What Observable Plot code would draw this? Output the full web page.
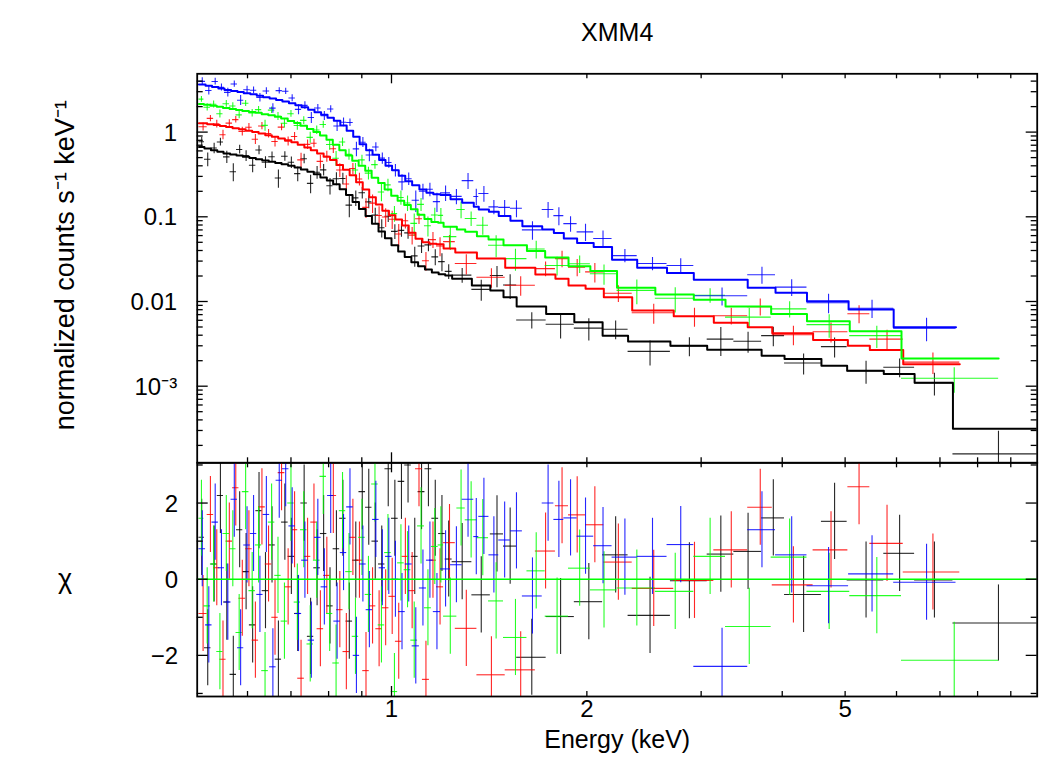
<!DOCTYPE html>
<html><head><meta charset="utf-8">
<script src="https://cdn.jsdelivr.net/npm/d3@7"></script>
<script src="https://cdn.jsdelivr.net/npm/@observablehq/plot@0.6"></script>
<style>
body{margin:0;background:#fff;}
#wrap{position:relative;width:1039px;height:761px;background:#fff;}
#wrap svg{position:absolute;left:0;top:0;}
</style></head><body><div id="wrap"></div>
<script>
// ---------- data (bin edges in keV, model in counts/s/keV, chi, relative error) ----------
const blackEdges = [0.505,0.515,0.527,0.539,0.551,0.564,0.577,0.590,0.604,0.618,0.632,0.647,0.662,0.677,0.693,0.709,0.725,0.742,0.759,0.777,0.795,0.813,0.832,0.851,0.871,0.891,0.912,0.933,0.955,0.977,1.000,1.024,1.048,1.073,1.099,1.126,1.154,1.182,1.210,1.240,1.330,1.420,1.488,1.559,1.731,1.913,2.115,2.315,2.690,3.065,3.369,3.718,4.033,4.597,5.036,5.735,6.398,7.33,9.9];
const blackModel = [0.667,0.640,0.612,0.585,0.560,0.545,0.528,0.512,0.495,0.478,0.462,0.447,0.432,0.418,0.400,0.382,0.362,0.340,0.318,0.292,0.268,0.243,0.212,0.181,0.150,0.124,0.102,0.083,0.067,0.056,0.046,0.039,0.0335,0.029,0.026,0.0238,0.022,0.021,0.0203,0.0186,0.0155,0.0135,0.01125,0.00873,0.00714,0.00568,0.00395,0.00338,0.00301,0.0027,0.0027,0.00229,0.00209,0.00174,0.00152,0.00139,0.0011,0.000314];
const blackChi = [1.1,-1.8,0.4,2.2,-0.6,-2.5,1.3,0.2,-1.2,1.8,-0.3,0.9,-2.1,1.5,0.6,-0.9,2.0,-1.5,0.3,1.2,-0.7,0.8,1.6,-1.1,0.5,2.3,1.89,1.0,0.4,2.9,1.6,2.57,3.0,0.6,2.3,2.9,1.6,1.2,0.53,0.46,-0.41,1.19,0.87,-2.05,-0.98,-0.59,0.64,-0.95,-0.04,0.66,0.73,1.61,-0.40,1.52,-0.02,0.68,-0.02,-1.15];
const blackErr = [0.14,0.14,0.15,0.14,0.15,0.15,0.14,0.15,0.15,0.16,0.15,0.16,0.16,0.16,0.17,0.17,0.17,0.18,0.18,0.19,0.19,0.20,0.21,0.22,0.23,0.24,0.25,0.26,0.27,0.28,0.29,0.30,0.31,0.32,0.32,0.33,0.33,0.34,0.22,0.22,0.25,0.42,0.45,0.15,0.25,0.25,0.3,0.25,0.25,0.5,0.35,0.45,0.25,0.45,0.3,0.3,0.3,0.43];

const redEdges = [0.505,0.520,0.532,0.544,0.556,0.569,0.582,0.596,0.610,0.624,0.639,0.654,0.669,0.685,0.701,0.717,0.734,0.751,0.768,0.786,0.804,0.823,0.842,0.862,0.882,0.903,0.924,0.946,0.968,0.991,1.014,1.038,1.063,1.089,1.116,1.144,1.173,1.203,1.254,1.354,1.497,1.666,1.789,1.874,1.991,2.124,2.349,2.722,3.138,3.539,3.861,4.463,5.049,5.458,6.145,7.51];
const redModel = [1.27,1.24,1.21,1.18,1.15,1.11,1.08,1.04,1.00,0.96,0.92,0.88,0.84,0.80,0.76,0.71,0.66,0.61,0.56,0.51,0.47,0.41,0.36,0.31,0.255,0.21,0.17,0.14,0.118,0.104,0.093,0.079,0.065,0.055,0.050,0.048,0.0474,0.0421,0.0378,0.0321,0.0251,0.0209,0.0186,0.0155,0.0141,0.01125,0.00782,0.0067,0.00563,0.00496,0.00421,0.00351,0.00301,0.00267,0.00182];
const redChi = [-0.9,1.7,0.3,-2.1,1.0,2.4,-0.5,0.8,-1.6,1.9,0.4,-1.0,2.8,-0.2,1.3,-2.6,0.6,1.5,-1.3,0.1,2.2,-0.8,-1.9,1.1,0.5,-2.4,-0.7,-1.3,-0.75,-0.45,-1.63,0.6,-0.3,2.9,-2.63,0.5,-0.2,0.96,-1.29,-2.51,-2.38,0.74,1.93,1.69,1.43,0.45,-0.24,-0.03,0.77,1.89,-0.15,0.77,2.43,0.94,0.19];
const redErr = [0.10,0.10,0.11,0.10,0.11,0.11,0.11,0.12,0.11,0.12,0.12,0.12,0.13,0.12,0.13,0.13,0.14,0.14,0.15,0.15,0.16,0.16,0.17,0.18,0.19,0.16,0.21,0.20,0.21,0.22,0.20,0.23,0.22,0.25,0.15,0.24,0.24,0.22,0.2,0.158,0.16,0.23,0.376,0.38,0.41,0.25,0.25,0.25,0.27,0.40,0.25,0.33,0.57,0.37,0.3];

const greenEdges = [0.505,0.514,0.526,0.538,0.550,0.563,0.576,0.589,0.603,0.617,0.631,0.646,0.661,0.676,0.692,0.708,0.724,0.741,0.758,0.776,0.794,0.812,0.831,0.850,0.870,0.890,0.911,0.932,0.954,0.976,0.999,1.022,1.046,1.071,1.097,1.124,1.152,1.180,1.203,1.261,1.299,1.354,1.411,1.488,1.617,1.725,1.874,2.025,2.226,2.550,2.923,3.271,3.846,4.367,5.083,6.107,8.62];
const greenModel = [2.14,2.10,2.05,1.99,1.93,1.88,1.83,1.78,1.73,1.69,1.63,1.58,1.52,1.45,1.35,1.28,1.19,1.09,1.00,0.91,0.81,0.71,0.61,0.53,0.46,0.40,0.35,0.29,0.25,0.21,0.177,0.155,0.138,0.123,0.106,0.094,0.087,0.0849,0.0761,0.0709,0.0664,0.0590,0.0539,0.0462,0.0395,0.0330,0.0260,0.0229,0.01455,0.0121,0.01047,0.0087,0.00714,0.00585,0.00445,0.00212];
const greenChi = [1.6,-0.7,0.4,-1.9,1.2,0.8,-1.4,2.3,-0.3,0.9,-2.4,1.5,0.1,-1.1,2.0,-0.6,1.3,-1.7,0.5,2.7,-0.9,-2.2,1.8,0.2,-1.5,1.1,-0.4,2.5,-1.2,0.7,-2.95,0.43,0.25,-1.6,1.4,-0.75,0.86,0.9,-0.97,1.87,1.56,1.09,-0.57,-1.53,0.22,-0.97,0.29,-0.28,-0.23,-0.32,0.6,-1.24,0.58,-0.32,-0.43,-2.13];
const greenErr = [0.09,0.09,0.10,0.09,0.10,0.10,0.09,0.10,0.10,0.10,0.11,0.10,0.11,0.11,0.11,0.11,0.12,0.12,0.12,0.13,0.13,0.14,0.14,0.15,0.15,0.16,0.16,0.17,0.18,0.19,0.13,0.21,0.22,0.20,0.23,0.22,0.24,0.25,0.24,0.385,0.28,0.32,0.25,0.2,0.25,0.2,0.25,0.25,0.3,0.3,0.22,0.2,0.25,0.28,0.26,0.195];

const blueEdges = [0.505,0.517,0.529,0.541,0.553,0.566,0.579,0.592,0.606,0.620,0.634,0.649,0.664,0.679,0.695,0.711,0.727,0.744,0.761,0.779,0.797,0.815,0.834,0.853,0.873,0.893,0.914,0.935,0.957,0.979,1.002,1.026,1.050,1.076,1.104,1.132,1.160,1.190,1.233,1.285,1.339,1.363,1.413,1.463,1.525,1.591,1.707,1.779,1.843,1.932,2.049,2.187,2.391,2.658,2.923,3.539,3.906,4.367,5.062,5.94,7.41];
const blueModel = [3.65,3.52,3.40,3.28,3.15,3.06,2.97,2.88,2.79,2.68,2.58,2.49,2.40,2.30,2.19,2.08,1.96,1.84,1.72,1.60,1.48,1.36,1.20,1.04,0.88,0.72,0.61,0.54,0.47,0.40,0.355,0.305,0.262,0.235,0.21,0.192,0.184,0.181,0.161,0.147,0.131,0.122,0.1148,0.102,0.0897,0.0776,0.0709,0.0646,0.0554,0.0491,0.0441,0.0312,0.0251,0.0217,0.0181,0.01455,0.01268,0.0101,0.00803,0.00496];
const blueChi = [0.8,-1.2,1.5,0.3,-0.6,2.1,-1.8,0.9,1.2,-0.4,1.7,-2.3,2.6,2.9,1.4,-0.9,0.5,-1.6,1.1,-0.2,2.2,-1.1,0.7,1.9,-2.0,0.4,-0.8,1.57,0.3,0.6,0.0,-0.85,0.4,-1.75,-0.23,0.5,-0.85,0.27,0.38,2.1,1.12,1.65,0.64,1.03,1.27,-0.44,2.0,1.57,1.61,1.13,0.88,0.58,0.6,0.91,-2.29,1.30,0.64,-0.17,0.14,-0.08];
const blueErr = [0.11,0.10,0.11,0.10,0.11,0.10,0.11,0.11,0.10,0.11,0.11,0.10,0.11,0.11,0.11,0.12,0.11,0.12,0.11,0.12,0.12,0.12,0.13,0.13,0.14,0.14,0.15,0.15,0.16,0.16,0.17,0.18,0.18,0.19,0.20,0.20,0.21,0.22,0.22,0.39,0.29,0.33,0.22,0.26,0.32,0.22,0.36,0.38,0.31,0.31,0.29,0.2,0.2,0.25,0.155,0.325,0.26,0.25,0.25,0.3];

const xTickLabels = [1, 2, 5];
const xMinorTicks = [0.6, 0.7, 0.8, 0.9, 2, 3, 4, 5, 6, 7, 8, 9];
const xMajorTicks = [1];
const yTopMajor = [1, 0.1, 0.01, 0.001];
const yTopLabels = ["1", "0.1", "0.01", "10\u207B\u00B3"];
const chiMajor = [2, 0, -2];
const chiLabels = ["2", "0", "\u22122"];
const chiMinor = [3, 1, -1, -3];

const series = [
  {color: "#000000", edges: blackEdges, model: blackModel, chi: blackChi, rel: blackErr},
  {color: "#ff0000", edges: redEdges, model: redModel, chi: redChi, rel: redErr},
  {color: "#00ff00", edges: greenEdges, model: greenModel, chi: greenChi, rel: greenErr},
  {color: "#0000ff", edges: blueEdges, model: blueModel, chi: blueChi, rel: blueErr}
];

function bins(s) {
  const out = [];
  const n = Math.min(s.model.length, s.chi.length, s.rel.length, s.edges.length - 1);
  for (let i = 0; i < n; i++) {
    const lo = s.edges[i], hi = s.edges[i + 1], m = s.model[i], c = s.chi[i];
    const err = m * s.rel[i];
    const y = m + c * err;
    out.push({lo, hi, x: (lo + hi) / 2, m, chi: c, y: Math.max(y, 1e-7), ylo: Math.max(y - err, 1e-7), yhi: y + err});
  }
  return out;
}

// ---------- layout ----------
const W = 1039, H = 761;
const L = 196.7, R = 1036.7;
const topY0 = 73.3, midY = 462.3, botY1 = 696;
const FW = R - L, topFH = midY - topY0, botFH = botY1 - midY;
const FONT = "'Liberation Sans', Arial, Helvetica, sans-serif";
const xDomain = [0.5019, 9.884];

const yMinorTop = [];
for (const d of [1e-4, 1e-3, 1e-2, 1e-1, 1]) for (let k = 2; k <= 9; k++) { const v = k * d; if (v > 1.246e-4 && v < 4.88) yMinorTop.push(v); }

function xTicks(fh) {
  const st = {stroke: "black", strokeWidth: 1.3};
  return [
    Plot.ruleX(xMinorTicks, {x: d => d, insetTop: fh - 5, ...st}),
    Plot.ruleX(xMinorTicks, {x: d => d, insetBottom: fh - 5, ...st}),
    Plot.ruleX(xMajorTicks, {x: d => d, insetTop: fh - 10, ...st}),
    Plot.ruleX(xMajorTicks, {x: d => d, insetBottom: fh - 10, ...st})
  ];
}
function yTicks(major, minor) {
  const st = {stroke: "black", strokeWidth: 1.3};
  return [
    Plot.ruleY(minor, {y: d => d, insetRight: FW - 6, ...st}),
    Plot.ruleY(minor, {y: d => d, insetLeft: FW - 6, ...st}),
    Plot.ruleY(major, {y: d => d, insetRight: FW - 11, ...st}),
    Plot.ruleY(major, {y: d => d, insetLeft: FW - 11, ...st})
  ];
}

const topData = [], topModel = [], botData = [];
for (const s of series) {
  const b = bins(s);
  const st = {stroke: s.color, strokeWidth: 1.1, strokeOpacity: 0.85, clip: true};
  topData.push(
    Plot.ruleY(b, {y: "y", x1: "lo", x2: "hi", ...st}),
    Plot.ruleX(b, {x: "x", y1: "ylo", y2: "yhi", ...st})
  );
  const steps = b.flatMap(d => [{x: d.lo, y: d.m}, {x: d.hi, y: d.m}]);
  topModel.push(Plot.line(steps, {x: "x", y: "y", stroke: s.color, strokeWidth: 2, clip: true}));
  botData.push(
    Plot.ruleY(b, {y: "chi", x1: "lo", x2: "hi", ...st}),
    Plot.ruleX(b, {x: "x", y1: d => d.chi - 1, y2: d => d.chi + 1, ...st})
  );
}

const topPlot = Plot.plot({
  width: W, height: H,
  marginLeft: L, marginRight: W - R, marginTop: topY0, marginBottom: H - midY,
  style: {background: "transparent", fontFamily: FONT, fontSize: "24px", color: "black"},
  x: {type: "log", domain: xDomain, axis: null},
  y: {type: "log", domain: [1.246e-4, 4.88], axis: null},
  marks: [
    ...topData,
    ...topModel,
    ...xTicks(topFH),
    ...yTicks(yTopMajor, yMinorTop),
    Plot.frame({stroke: "black", strokeWidth: 1.8}),
    Plot.text(yTopMajor, {y: d => d, text: (d, i) => yTopLabels[i], frameAnchor: "left", textAnchor: "end", dx: -20, dy: 1, fontSize: 24}),
    Plot.text(["normalized counts s\u207B\u00B9 keV\u207B\u00B9"], {frameAnchor: "left", textAnchor: "middle", dx: -132, dy: -3, rotate: -90, fontSize: 27}),
    Plot.text(["XMM4"], {frameAnchor: "top", dy: -51, fontSize: 25})
  ]
});

const botPlot = Plot.plot({
  width: W, height: H,
  marginLeft: L, marginRight: W - R, marginTop: midY, marginBottom: H - botY1,
  style: {background: "transparent", fontFamily: FONT, fontSize: "24px", color: "black"},
  x: {type: "log", domain: xDomain, axis: null},
  y: {domain: [-3.080, 3.057], axis: null},
  marks: [
    ...botData,
    Plot.ruleY([0], {stroke: "#00ff00", strokeWidth: 1.6}),
    ...xTicks(botFH),
    ...yTicks(chiMajor, chiMinor),
    Plot.frame({stroke: "black", strokeWidth: 1.8}),
    Plot.text(chiMajor, {y: d => d, text: (d, i) => chiLabels[i], frameAnchor: "left", textAnchor: "end", dx: -19, dy: 1, fontSize: 24}),
    Plot.text(xTickLabels, {x: d => d, text: d => String(d), frameAnchor: "bottom", dy: 20, fontSize: 24}),
    Plot.text(["Energy (keV)"], {frameAnchor: "bottom", dy: 51, fontSize: 25}),
    Plot.text(["\u03C7"], {frameAnchor: "left", textAnchor: "middle", dx: -132, fontSize: 27})
  ]
});

const wrap = document.getElementById("wrap");
wrap.appendChild(topPlot);
wrap.appendChild(botPlot);
</script></body></html>
